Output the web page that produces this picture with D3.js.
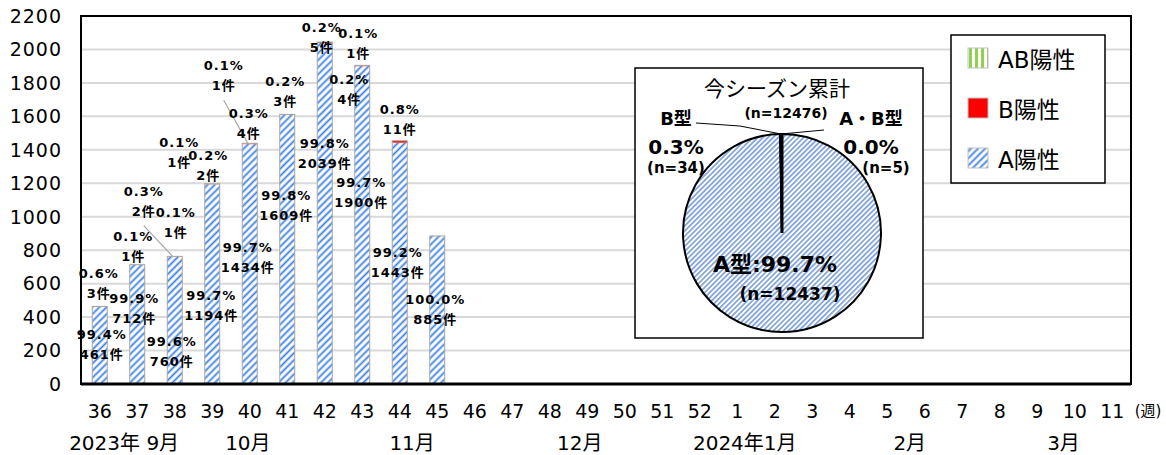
<!DOCTYPE html>
<html>
<head>
<meta charset="utf-8">
<script src="https://cdn.jsdelivr.net/npm/d3@7"></script>
<style>
  body { margin: 0; background: #fff; }
  text { font-family: "DejaVu Sans", "Noto Sans CJK JP", sans-serif; }
  .lbl { font-weight: bold; font-size: 13px; }
</style>
</head>
<body>
<svg id="viz" width="1166" height="455"></svg>
<script>
// week categories on the x axis
var weeks = ["36","37","38","39","40","41","42","43","44","45","46","47","48","49","50","51","52",
             "1","2","3","4","5","6","7","8","9","10","11"];
// counts per week (weeks 36-45 reported so far)
var aPos  = [461, 712, 760, 1194, 1434, 1609, 2039, 1900, 1443, 885];
var bPos  = [3, 1, 2, 1, 4, 3, 5, 4, 11, 0];
var abPos = [0, 0, 1, 2, 1, 0, 0, 1, 0, 0];
var yTicks = [0, 200, 400, 600, 800, 1000, 1200, 1400, 1600, 1800, 2000, 2200];
var months = ["2023年 9月", "10月", "11月", "12月", "2024年1月", "2月", "3月"];
var monthAt = [1.15, 4.45, 8.83, 13.3, 17.7, 22.1, 26.2];   // in week units from the left edge
// season totals for the pie
var pieNames = ["A型", "B型", "A・B型"];
var pieVals = [12437, 34, 5];

// hand placed label nudges (px), like the moved labels of the original
var aNudge  = [[2,-1],[-3,-16],[-3,31],[-1,21],[-2,-7],[-1,-44],[0,-60],[-1,-33],[-2,-1],[-2,-1]];
var bNudge  = [[-1,-23],[-4,-19],[-31,-56],[-33,-32],[-1,-20],[-2,-23],[-3,-5],[-13,23],[0,-22],null];
var abNudge = [null,null,[1,-34],[-4,-19],[-26,-68],null,null,[-4,-22],null,null];

var svg = d3.select("#viz");
var pLeft = 81, pRight = 1131, pTop = 16, pBottom = 384;

var defs = svg.append("defs");
function hatch(id, size, w, color) {
    var p = defs.append("pattern").attr("id", id)
        .attr("patternUnits", "userSpaceOnUse")
        .attr("width", size).attr("height", size)
        .attr("patternTransform", "rotate(45)");
    p.append("rect").attr("width", size).attr("height", size).attr("fill", "#fff");
    p.append("line").attr("x1", size/2).attr("y1", 0).attr("x2", size/2).attr("y2", size)
        .attr("stroke", color).attr("stroke-width", w);
}
hatch("hatchA", 5, 1.8, "#3b7fdc");
hatch("hatchPie", 3.6, 1.1, "#3a6fc4");
var pv = defs.append("pattern").attr("id", "stripeAB")
    .attr("patternUnits", "userSpaceOnUse").attr("width", 6).attr("height", 6);
pv.append("rect").attr("width", 6).attr("height", 6).attr("fill", "#fff");
pv.append("rect").attr("x", 1).attr("width", 3).attr("height", 6).attr("fill", "#92d050");

var x = d3.scaleBand().domain(weeks).range([pLeft, pRight]).paddingInner(0.6).paddingOuter(0.3);
var xi = d3.scaleLinear().domain([0, weeks.length]).range([pLeft, pRight]);
var y = d3.scaleLinear().domain([0, 2200]).range([pBottom, pTop]);

// grid
svg.selectAll(".grid").data(yTicks.slice(1, -1)).enter().append("line")
    .attr("x1", pLeft).attr("x2", pRight)
    .attr("y1", function(d) { return y(d); }).attr("y2", function(d) { return y(d); })
    .attr("stroke", "#d9d9d9").attr("stroke-width", 2);

// y labels
svg.selectAll(".ytick").data(yTicks).enter().append("text")
    .attr("x", 62).attr("y", function(d) { return y(d); })
    .attr("dy", "0.36em").attr("text-anchor", "end")
    .style("font-size", "19px").style("letter-spacing", "1px")
    .text(function(d) { return d; });

// stacked bars
var rows = aPos.map(function(a, i) {
    return {week: weeks[i], a: a, b: bPos[i], ab: abPos[i], total: a + bPos[i] + abPos[i], i: i};
});
var segs = [];
rows.forEach(function(r) {
    segs.push({r: r, y0: 0, y1: r.a, fill: "url(#hatchA)"});
    if (r.b) segs.push({r: r, y0: r.a, y1: r.a + r.b, fill: "#ff0000"});
    if (r.ab) segs.push({r: r, y0: r.a + r.b, y1: r.total, fill: "url(#stripeAB)"});
});
svg.selectAll(".seg").data(segs).enter().append("rect")
    .attr("x", function(d) { return x(d.r.week); })
    .attr("width", x.bandwidth())
    .attr("y", function(d) { return y(d.y1); })
    .attr("height", function(d) { return y(d.y0) - y(d.y1); })
    .attr("fill", function(d) { return d.fill; });
svg.selectAll(".outline").data(rows).enter().append("rect")
    .attr("x", function(d) { return x(d.week); })
    .attr("width", x.bandwidth())
    .attr("y", function(d) { return y(d.total); })
    .attr("height", function(d) { return y(0) - y(d.total); })
    .attr("fill", "none").attr("stroke", "#a6a6a6").attr("stroke-width", 1);

// plot frame
svg.append("rect").attr("x", pLeft).attr("y", pTop)
    .attr("width", pRight - pLeft).attr("height", pBottom - pTop)
    .attr("fill", "none").attr("stroke", "#000").attr("stroke-width", 2);
svg.append("line").attr("x1", pLeft).attr("x2", pRight).attr("y1", pBottom).attr("y2", pBottom)
    .attr("stroke", "#000").attr("stroke-width", 3);

// data labels
var labels = [];
rows.forEach(function(r) {
    var cx = x(r.week) + x.bandwidth() / 2;
    var pct = function(v) { return (v / r.total * 100).toFixed(1) + "%"; };
    labels.push({x: cx + aNudge[r.i][0], y: y(r.a / 2) + aNudge[r.i][1], p: pct(r.a), n: r.a + "件"});
    if (r.b) labels.push({x: cx + bNudge[r.i][0], y: y(r.a + r.b) + bNudge[r.i][1], p: pct(r.b), n: r.b + "件",
                          ax: cx, ay: y(r.a + r.b)});
    if (r.ab) labels.push({x: cx + abNudge[r.i][0], y: y(r.total) + abNudge[r.i][1], p: pct(r.ab), n: r.ab + "件",
                           ax: cx, ay: y(r.total)});
});
// leader lines for labels pulled far away
labels.filter(function(d) { return d.ax !== undefined && (d.y < d.ay - 45); }).forEach(function(d) {
    svg.append("line").attr("x1", d.x).attr("y1", d.y + 25)
        .attr("x2", d.ax - 2).attr("y2", d.ay)
        .attr("stroke", "#a6a6a6").attr("stroke-width", 1.2);
});
var lg = svg.selectAll(".dl").data(labels).enter().append("g");
lg.append("text").attr("class", "lbl").attr("text-anchor", "middle")
    .attr("x", function(d) { return d.x; }).attr("y", function(d) { return d.y - 5; })
    .style("letter-spacing", "1px")
    .text(function(d) { return d.p; });
lg.append("text").attr("class", "lbl").attr("text-anchor", "middle")
    .attr("x", function(d) { return d.x; }).attr("y", function(d) { return d.y + 15; })
    .style("letter-spacing", "1px")
    .text(function(d) { return d.n; });

// x axis labels
svg.selectAll(".wk").data(weeks).enter().append("text")
    .attr("x", function(d) { return x(d) + x.bandwidth() / 2; })
    .attr("y", 418).attr("text-anchor", "middle")
    .style("font-size", "19px")
    .text(function(d) { return d; });
svg.append("text").attr("x", 1148).attr("y", 416).attr("text-anchor", "middle")
    .style("font-size", "15px").text("(週)");
svg.selectAll(".mo").data(months).enter().append("text")
    .attr("x", function(d, i) { return xi(monthAt[i]); })
    .attr("y", 450).attr("text-anchor", "middle")
    .style("font-size", "20px")
    .text(function(d) { return d; });

// pie inset
svg.append("rect").attr("x", 635).attr("y", 68).attr("width", 288).attr("height", 270)
    .attr("fill", "#fff").attr("stroke", "#000").attr("stroke-width", 1.5);
var pcx = 782, pcy = 233, pr = 99;
var pie = d3.pie().sort(null).value(function(d) { return d; });
var arc = d3.arc().innerRadius(0).outerRadius(pr);
var pg = svg.append("g").attr("transform", "translate(" + pcx + "," + pcy + ")");
pg.selectAll("path").data(pie(pieVals)).enter().append("path")
    .attr("d", arc)
    .attr("fill", function(d, i) { return i == 0 ? "url(#hatchPie)" : (i == 1 ? "#ff0000" : "#92d050"); })
    .attr("stroke", "#000").attr("stroke-width", 2);
pg.append("line").attr("x1", 0).attr("y1", -pr).attr("x2", 0).attr("y2", 0)
    .attr("stroke", "#000").attr("stroke-width", 3);

var pieTotal = d3.sum(pieVals);
function pieText(tx, ty, size, str, bold) {
    svg.append("text").attr("x", tx).attr("y", ty).attr("text-anchor", "middle")
        .style("font-size", size + "px").style("font-weight", bold ? "bold" : "normal")
        .text(str);
}
pieText(777, 96, 21, "今シーズン累計", false);
pieText(786, 118, 14, "(n=" + pieTotal + ")", true);
pieText(676, 125, 18, pieNames[1], true);
pieText(871, 125, 18, pieNames[2], true);
pieText(676, 154, 20, (pieVals[1] / pieTotal * 100).toFixed(1) + "%", true);
pieText(676, 173, 15, "(n=" + pieVals[1] + ")", true);
pieText(871, 154, 20, (pieVals[2] / pieTotal * 100).toFixed(1) + "%", true);
pieText(886, 173, 15, "(n=" + pieVals[2] + ")", true);
pieText(775, 272, 22, pieNames[0] + ":" + (pieVals[0] / pieTotal * 100).toFixed(1) + "%", true);
pieText(790, 300, 17, "(n=" + pieVals[0] + ")", true);
svg.append("polyline").attr("points", "696,123 740,126 781,134 824,130")
    .attr("fill", "none").attr("stroke", "#000").attr("stroke-width", 1);

// legend
svg.append("rect").attr("x", 951).attr("y", 35).attr("width", 154).attr("height", 148)
    .attr("fill", "#fff").attr("stroke", "#000").attr("stroke-width", 1.5);
var legItems = [["AB陽性", "url(#stripeAB)"], ["B陽性", "#ff0000"], ["A陽性", "url(#hatchA)"]];
var leg = svg.selectAll(".leg").data(legItems).enter().append("g")
    .attr("transform", function(d, i) { return "translate(968," + (48 + i * 50) + ")"; });
leg.append("rect").attr("width", 20).attr("height", 20)
    .attr("fill", function(d) { return d[1]; })
    .attr("stroke", "#bfbfbf").attr("stroke-width", 1);
leg.append("text").attr("x", 30).attr("y", 20)
    .style("font-size", "23px")
    .text(function(d) { return d[0]; });
</script>
</body>
</html>
